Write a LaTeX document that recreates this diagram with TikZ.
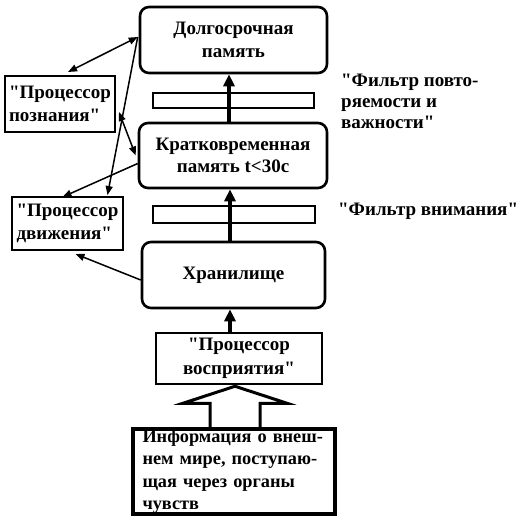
\documentclass[tikz,border=0pt]{standalone}
\usepackage{fontspec}
\setmainfont{Liberation Serif}[Ligatures=TeXOff]
\usetikzlibrary{arrows.meta,calc}
\begin{document}
\begin{tikzpicture}[x=1pt,y=-1pt,
  every node/.style={font=\fontsize{19}{22.5}\selectfont\bfseries, inner sep=0pt},
  rbox/.style={draw, line width=2.6pt, rounded corners=9pt, align=center},
  pbox/.style={draw, line width=2pt, align=left},
  bar/.style={draw, line width=2pt},
  thin/.style={line width=1.5pt, -{Triangle[length=9pt,width=7pt]}},
  thinboth/.style={line width=1.5pt, {Triangle[length=9pt,width=7pt]}-{Triangle[length=9pt,width=7pt]}},
  thick/.style={line width=4pt, -{Triangle[length=12pt,width=11pt]}}]
\useasboundingbox (0,0) rectangle (530,528);

\node[rbox, minimum width=187pt, minimum height=66pt] (dolg) at (233.5,40) {Долгосрочная\\память};
\node[rbox, minimum width=188pt, minimum height=65pt] (krat) at (233,155.5) {Кратковременная\\память t<30c};
\node[rbox, minimum width=183pt, minimum height=66pt] (khran) at (233.5,275) {Хранилище};
\node[pbox, align=center, minimum width=166pt, minimum height=51pt, font=\fontsize{19}{24}\selectfont\bfseries] (vosp) at (239,358.5) {"Процессор\\восприятия"};
\node[draw, line width=3.5pt, minimum width=202pt, minimum height=85pt, text width=202pt, align=left, font=\fontsize{18.3}{22.5}\selectfont\bfseries] (info) at (234,471.5) {\hspace*{9.5pt}Информация о внеш-\\\hspace*{9.5pt}нем мире, поступаю-\\\hspace*{9.5pt}щая через органы\\\hspace*{9.5pt}чувств};
\node[pbox, minimum width=110pt, minimum height=56pt] (pozn) at (60,104) {"Процессор\\познания"};
\node[pbox, minimum width=111pt, minimum height=53pt] (dvizh) at (67.5,223.5) {"Процессор\\движения"};

\node[bar, minimum width=161pt, minimum height=15pt] (bar1) at (233.5,100.5) {};
\node[bar, minimum width=162pt, minimum height=17pt] (bar2) at (234,214.5) {};

\node[anchor=west, align=left, font=\fontsize{19}{21}\selectfont\bfseries] (lab1) at (341,101) {"Фильтр повто-\\ряемости и\\важности"};
\node[anchor=west] (lab2) at (338,211) {"Фильтр внимания"};

% thick arrows
\draw[thick] ($(krat.north)+(-4,0)$) -- ($(dolg.south)+(-4.5,0)$);
\draw[thick] ($(khran.north)+(-3.5,0)$) -- ($(krat.south)+(-3,0)$);
\draw[thick] ($(vosp.north)+(-9,0)$) -- ($(khran.south)+(-3.5,0)$);

% thin arrows
\coordinate (dl) at ($(dolg.west)+(-1,-3)$);
\draw[thinboth] (dl) -- ($(pozn.north)+(8,-3)$);
\draw[thin] (dl) -- ($(dvizh.north)+(40,-1)$);
\draw[thinboth] ($(pozn.east)+(3,8)$) -- ($(krat.west)+(-2,0)$);
\draw[thin] ($(krat.west)+(0,8)$) -- ($(dvizh.north)+(-5,1)$);
\draw[thin] ($(khran.west)+(0,5)$) -- ($(dvizh.south)+(8,3)$);

% block arrow
\draw[line width=3pt, line join=miter]
  ($(info.north)+(-24,0)$) -- ($(info.north)+(-24,-24)$) -- ($(info.north)+(-51,-24)$)
  -- ($(info.north)+(1,-41)$) -- ($(info.north)+(53,-24)$) -- ($(info.north)+(26,-24)$)
  -- ($(info.north)+(26,0)$);
\end{tikzpicture}
\end{document}
